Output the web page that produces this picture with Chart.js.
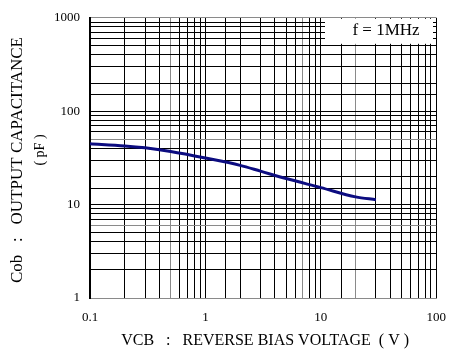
<!DOCTYPE html>
<html>
<head>
<meta charset="utf-8">
<script src="https://cdn.jsdelivr.net/npm/chart.js@4"></script>
<style>
    body { margin: 0; background: #fff; }
    #wrap { width: 458px; height: 354px; position: relative; }
</style>
</head>
<body>
<div id="wrap"><canvas id="cobChart"></canvas></div>
<script>
    const voltage = [0.1, 0.2, 0.3, 0.5, 1, 2, 3, 5, 10, 20, 30];
    const capacitance = [44.8, 42.5, 40.5, 37, 31.5, 26.3, 22.8, 19, 15.2, 12.1, 11.3];
    const xTickLabels = ['0.1', '1', '10', '100'];
    const yTickLabels = ['1', '10', '100', '1000'];

    const serif = "'Liberation Serif', 'Times New Roman', serif";
    const grayX = [0.5, 7, 20];
    const grayY = [1, 6, 50, 1000];

    function near(v, list) {
        return list.some(t => Math.abs(v - t) / t < 1e-6);
    }

    function decadeLabel(v, labels) {
        const s = String(parseFloat(v.toPrecision(6)));
        return labels.includes(s) ? s : '';
    }

    // titles + the "f = 1MHz" box
    const extras = {
        id: 'extras',
        beforeDatasetsDraw(chart) {
            const ctx = chart.ctx;
            const area = chart.chartArea;
            ctx.save();
            ctx.fillStyle = '#fff';
            ctx.fillRect(325, area.top + 1, 108, 25);
            ctx.fillStyle = '#000';
            ctx.font = '17px ' + serif;
            ctx.textAlign = 'center';
            ctx.textBaseline = 'middle';
            ctx.fillText('f = 1MHz', 386, 31);
            ctx.restore();
        },
        afterDraw(chart) {
            const ctx = chart.ctx;
            const area = chart.chartArea;
            ctx.save();
            ctx.fillStyle = '#000';
            ctx.textAlign = 'center';
            ctx.textBaseline = 'middle';
            ctx.font = '16px ' + serif;
            ctx.fillText('VCB   :   REVERSE BIAS VOLTAGE  ( V )', (area.left + area.right) / 2 + 2, 341);

            ctx.translate(18, 160);
            ctx.rotate(-Math.PI / 2);
            ctx.font = '17px ' + serif;
            ctx.fillText('Cob   :   OUTPUT CAPACITANCE', 0, 0);
            ctx.font = '14px ' + serif;
            ctx.fillText('( pF )', 10, 22);
            ctx.restore();
        }
    };

    new Chart(document.getElementById('cobChart'), {
        type: 'line',
        data: {
            datasets: [{
                data: voltage.map((v, i) => ({ x: v, y: capacitance[i] })),
                borderColor: '#0c0c80',
                borderWidth: 3,
                pointRadius: 0,
                cubicInterpolationMode: 'monotone',
                fill: false
            }]
        },
        options: {
            responsive: true,
            maintainAspectRatio: false,
            animation: false,
            layout: { padding: { top: 17, right: 12, left: 0, bottom: 0 } },
            plugins: {
                legend: { display: false },
                tooltip: { enabled: false }
            },
            scales: {
                x: {
                    type: 'logarithmic',
                    min: 0.1,
                    max: 100,
                    afterFit: s => { s.height = 56; },
                    grid: {
                        drawTicks: false,
                        color: c => near(c.tick.value, grayX) ? '#8a8a8a' : '#000',
                        lineWidth: 1
                    },
                    border: { color: '#8a8a8a', width: 1 },
                    ticks: {
                        autoSkip: false,
                        maxRotation: 0,
                        padding: 12,
                        color: '#000',
                        font: { family: serif, size: 13 },
                        callback: v => decadeLabel(v, xTickLabels)
                    }
                },
                y: {
                    type: 'logarithmic',
                    min: 1,
                    max: 1000,
                    afterFit: s => { s.width = 90; },
                    grid: {
                        drawTicks: false,
                        color: c => near(c.tick.value, grayY) ? '#8a8a8a' : '#000',
                        lineWidth: 1
                    },
                    border: { color: '#000', width: 2 },
                    ticks: {
                        autoSkip: false,
                        padding: 10,
                        color: '#000',
                        font: { family: serif, size: 13 },
                        callback: v => decadeLabel(v, yTickLabels)
                    }
                }
            }
        },
        plugins: [extras]
    });
</script>
</body>
</html>
